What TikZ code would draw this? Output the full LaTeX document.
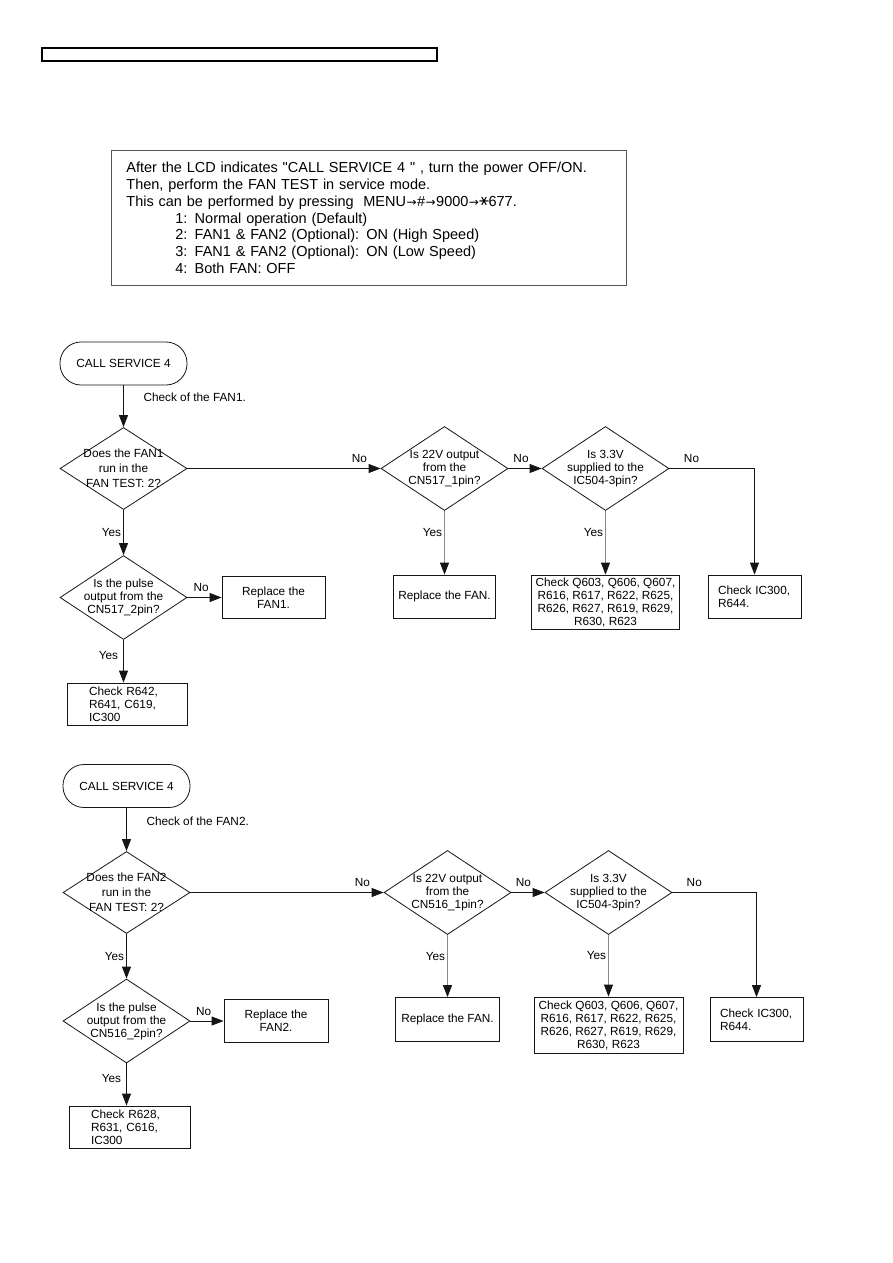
\documentclass[tikz,border=0pt]{standalone}
\usepackage{fontspec}
\setmainfont{Liberation Sans}
\newfontfamily\plainfont{Liberation Sans}
\newfontfamily\symfont{DejaVu Sans}
\usetikzlibrary{positioning, shapes.geometric, arrows.meta}
\definecolor{lineColor}{HTML}{151515}
\definecolor{yesColor}{HTML}{8A8A8A}
\definecolor{frameColor}{HTML}{555555}

\newcommand{\keyarrow}{\kern0.5pt{\symfont\fontsize{12}{12}\selectfont→}\kern0.5pt}

\begin{document}
\begin{tikzpicture}[
    x=1pt, y=-1pt,
    every node/.style={font=\fontsize{11.8}{13}\selectfont},
    infobox/.style={
        draw=frameColor,
        line width=0.8pt,
        text width=485pt,
        inner xsep=15pt,
        minimum height=135pt,
        align=left,
        font=\plainfont\fontsize{14.5}{16.7}\selectfont,
    },
    terminal/.style={
        draw=lineColor,
        line width=0.8pt,
        rounded corners=21pt,
        minimum width=127pt,
        minimum height=43pt,
        inner sep=0pt,
    },
    decision/.style={
        diamond,
        draw=lineColor,
        line width=0.8pt,
        minimum width=127pt,
        minimum height=84pt,
        inner sep=-16pt,
        align=center,
    },
    question/.style={
        decision,
        minimum height=82pt,
        font=\fontsize{11.8}{15}\selectfont,
    },
    action/.style={
        draw=lineColor,
        line width=0.8pt,
        minimum height=43pt,
        inner sep=1pt,
        align=center,
    },
    checkbox/.style={
        draw=lineColor,
        line width=0.8pt,
        minimum height=43pt,
        inner ysep=1pt,
        align=left,
    },
    flow/.style={
        draw=lineColor,
        line width=0.8pt,
        -{Triangle[length=12pt, width=9pt]},
    },
    yesflow/.style={
        flow,
        draw=yesColor,
        -{Triangle[length=12pt, width=9pt, color=lineColor]},
    },
    tag/.style={inner sep=2pt},
]

\useasboundingbox (0,0) rectangle (893,1263);

% page header bar
\draw[line width=1.2pt] (42,48) rectangle (437,61);

% service mode note
\node[infobox, anchor=north west] (info) at (111,150) {
    After the LCD indicates "CALL SERVICE 4 " , turn the power OFF/ON.\\
    Then, perform the FAN TEST in service mode.\\
    This can be performed by pressing\ \ MENU\keyarrow\#\keyarrow 9000\keyarrow{\symfont\rotatebox[origin=c]{90}{∗}}677.\\
    \hspace*{49pt}1: Normal operation (Default)\\
    \hspace*{49pt}2: FAN1 \& FAN2 (Optional): ON (High Speed)\\
    \hspace*{49pt}3: FAN1 \& FAN2 (Optional): ON (Low Speed)\\
    \hspace*{49pt}4: Both FAN: OFF
};

% ---- FAN1 ----
\node[terminal] (start1) at (123.5,363.5) {CALL SERVICE 4};
\node[anchor=west] (note1) at (140,397) {Check of the FAN1.};
\node[question] (run1) at (123.5,468.5) {Does the FAN1\\run in the\\FAN TEST: 2?};
\node[decision] (volt1) at (444.5,468.5) {Is 22V output\\from the\\CN517\_1pin?};
\node[decision] (supply1) at (605.5,468.5) {Is 3.3V\\supplied to the\\IC504-3pin?};
\node[decision] (pulse1) at (123.5,597.5) {Is the pulse\\output from the\\CN517\_2pin?};
\node[action, minimum width=102pt] (fan1) at (444.5,596.5) {Replace the FAN.};
\node[action, minimum width=148pt, minimum height=54pt] (parts1) at (605.5,602) {
    Check Q603, Q606, Q607,\\R616, R617, R622, R625,\\R626, R627, R619, R629,\\R630, R623};
\node[checkbox, text width=73pt, inner xsep=10pt] (ic1) at (754.5,596.5) {Check IC300,\\R644.};
\node[action, minimum width=103pt, minimum height=42pt] (repl1) at (273.5,597.5) {Replace the\\FAN1.};
\node[checkbox, text width=76pt, inner xsep=22pt, minimum height=42pt] (res1) at (127,704) {Check R642,\\R641, C619,\\IC300};

\draw[flow] (start1) -- (run1);
\draw[flow] (run1) -- node[tag, above=3pt, pos=0.89] (no11) {No} (volt1);
\draw[flow] (volt1) -- node[tag, above=3pt, pos=0.38] (no12) {No} (supply1);
\draw[flow] (supply1) -| node[tag, above=3pt, pos=0.13] (no13) {No} (ic1);
\draw[yesflow] (volt1) -- node[tag, left, pos=0.34] (yes12) {Yes} (fan1);
\draw[yesflow] (supply1) -- node[tag, left, pos=0.34] (yes13) {Yes} (parts1);
\draw[flow] (run1) -- node[tag, left, pos=0.5] (yes11) {Yes} (pulse1);
\draw[flow] (pulse1) -- node[tag, above=3pt, pos=0.4] (no14) {No} (repl1);
\draw[flow] (pulse1.south) -- node[tag, left=3pt, pos=0.36] (yes14) {Yes} (pulse1.south |- res1.north);

% ---- FAN2 ----
\node[terminal] (start2) at (126.5,786) {CALL SERVICE 4};
\node[anchor=west] (note2) at (143,821) {Check of the FAN2.};
\node[question] (run2) at (126.5,892.5) {Does the FAN2\\run in the\\FAN TEST: 2?};
\node[decision] (volt2) at (447.5,892.5) {Is 22V output\\from the\\CN516\_1pin?};
\node[decision] (supply2) at (608.5,892.5) {Is 3.3V\\supplied to the\\IC504-3pin?};
\node[decision] (pulse2) at (126.5,1021) {Is the pulse\\output from the\\CN516\_2pin?};
\node[action, minimum width=104pt, minimum height=44pt] (fan2) at (447.5,1019.5) {Replace the FAN.};
\node[action, minimum width=149pt, minimum height=56pt] (parts2) at (608.5,1025) {
    Check Q603, Q606, Q607,\\R616, R617, R622, R625,\\R626, R627, R619, R629,\\R630, R623};
\node[checkbox, text width=73pt, inner xsep=10pt, minimum height=44pt] (ic2) at (756.5,1019.5) {Check IC300,\\R644.};
\node[action, minimum width=104pt] (repl2) at (276,1021) {Replace the\\FAN2.};
\node[checkbox, text width=77pt, inner xsep=22pt, minimum height=42pt] (res2) at (129.5,1127) {Check R628,\\R631, C616,\\IC300};

\draw[flow] (start2) -- (run2);
\draw[flow] (run2) -- node[tag, above=3pt, pos=0.89] (no21) {No} (volt2);
\draw[flow] (volt2) -- node[tag, above=3pt, pos=0.36] (no22) {No} (supply2);
\draw[flow] (supply2) -| node[tag, above=3pt, pos=0.13] (no23) {No} (ic2);
\draw[yesflow] (volt2) -- node[tag, left, pos=0.34] (yes22) {Yes} (fan2);
\draw[yesflow] (supply2) -- node[tag, left, pos=0.34] (yes23) {Yes} (parts2);
\draw[flow] (run2) -- node[tag, left, pos=0.5] (yes21) {Yes} (pulse2);
\draw[flow] (pulse2) -- node[tag, above=3pt, pos=0.4] (no24) {No} (repl2);
\draw[flow] (pulse2.south) -- node[tag, left=3pt, pos=0.35] (yes24) {Yes} (pulse2.south |- res2.north);

\end{tikzpicture}
\end{document}
